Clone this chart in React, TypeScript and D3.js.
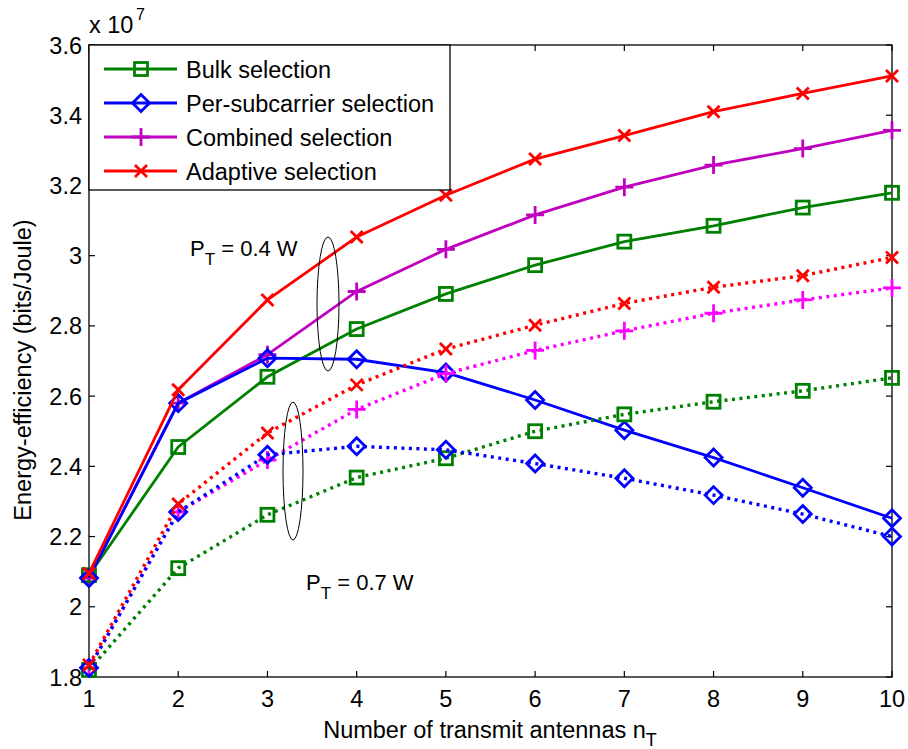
import React from "react";
import * as d3 from "d3";

const antennas = [1, 2, 3, 4, 5, 6, 7, 8, 9, 10];
const yTicks = [1.8, 2, 2.2, 2.4, 2.6, 2.8, 3, 3.2, 3.4, 3.6];
const yTickLabels = ["1.8", "2", "2.2", "2.4", "2.6", "2.8", "3", "3.2", "3.4", "3.6"];

// P_T = 0.4 W (solid)
const bulk04 = [2.09, 2.455, 2.655, 2.791, 2.891, 2.973, 3.04, 3.085, 3.137, 3.179];
const perSub04 = [2.082, 2.58, 2.708, 2.705, 2.667, 2.589, 2.503, 2.425, 2.339, 2.252];
const combined04 = [2.082, 2.58, 2.718, 2.898, 3.018, 3.116, 3.195, 3.258, 3.305, 3.357];
const adaptive04 = [2.095, 2.618, 2.874, 3.053, 3.172, 3.275, 3.342, 3.41, 3.462, 3.512];
// P_T = 0.7 W (dotted)
const bulk07 = [1.82, 2.11, 2.262, 2.368, 2.423, 2.5, 2.548, 2.584, 2.615, 2.652];
const perSub07 = [1.826, 2.27, 2.433, 2.457, 2.447, 2.408, 2.366, 2.318, 2.264, 2.2];
const combined07 = [1.826, 2.27, 2.418, 2.562, 2.664, 2.73, 2.786, 2.836, 2.874, 2.908];
const adaptive07 = [1.834, 2.293, 2.495, 2.632, 2.734, 2.802, 2.864, 2.91, 2.943, 2.995];

const legendNames = ["Bulk selection", "Per-subcarrier selection", "Combined selection", "Adaptive selection"];

type Marker = "square" | "diamond" | "plus" | "x";

const L = 89, R = 892, T = 45, B = 677;
const FONT = "'Liberation Sans', Arial, Helvetica, sans-serif";
const FS = 23.5;

function MarkerShape({ type, x, y, color }: { type: Marker; x: number; y: number; color: string }) {
  const sw = 2.8;
  if (type === "square") {
    const s = 6.5;
    return <rect x={x - s} y={y - s} width={2 * s} height={2 * s} fill="none" stroke={color} strokeWidth={sw} />;
  }
  if (type === "diamond") {
    const s = 8.5;
    return <path d={`M${x},${y - s}L${x + s},${y}L${x},${y + s}L${x - s},${y}Z`} fill="none" stroke={color} strokeWidth={sw} />;
  }
  if (type === "plus") {
    const s = 9;
    return <path d={`M${x - s},${y}L${x + s},${y}M${x},${y - s}L${x},${y + s}`} stroke={color} strokeWidth={sw} />;
  }
  const s = 6;
  return <path d={`M${x - s},${y - s}L${x + s},${y + s}M${x - s},${y + s}L${x + s},${y - s}`} stroke={color} strokeWidth={sw} />;
}

export default function App() {
  const x = d3.scaleLinear().domain([1, 10]).range([L, R]);
  const y = d3.scaleLinear().domain([1.8, 3.6]).range([B, T]);
  const line = d3.line<number>().x((_, i) => x(antennas[i])).y((d) => y(d));

  const series: { data: number[]; color: string; marker: Marker; dotted: boolean }[] = [
    { data: combined04, color: "#bf00bf", marker: "plus", dotted: false },
    { data: bulk04, color: "#008000", marker: "square", dotted: false },
    { data: perSub04, color: "#0000ff", marker: "diamond", dotted: false },
    { data: adaptive04, color: "#ff0000", marker: "x", dotted: false },
    { data: combined07, color: "#ff00ff", marker: "plus", dotted: true },
    { data: bulk07, color: "#008000", marker: "square", dotted: true },
    { data: perSub07, color: "#0000ff", marker: "diamond", dotted: true },
    { data: adaptive07, color: "#ff0000", marker: "x", dotted: true },
  ];

  const legend: { color: string; marker: Marker }[] = [
    { color: "#008000", marker: "square" },
    { color: "#0000ff", marker: "diamond" },
    { color: "#bf00bf", marker: "plus" },
    { color: "#ff0000", marker: "x" },
  ];
  const legendY = [69, 103, 137, 171];

  return (
    <svg width={908} height={749} style={{ position: "absolute", left: 0, top: 0, background: "#fff" }} fontFamily={FONT}>
      <rect x={0} y={0} width={908} height={749} fill="#fff" />
      <defs>
        <clipPath id="plotclip">
          <rect x={L - 12} y={T - 12} width={R - L + 24} height={B - T + 24} />
        </clipPath>
      </defs>
      {/* axes box */}
      <rect x={L} y={T} width={R - L} height={B - T} fill="none" stroke="#000" strokeWidth={1.3} />
      {antennas.map((a) => (
        <g key={"xt" + a}>
          <line x1={x(a)} x2={x(a)} y1={B} y2={B - 6} stroke="#000" strokeWidth={1.2} />
          <line x1={x(a)} x2={x(a)} y1={T} y2={T + 6} stroke="#000" strokeWidth={1.2} />
          <text x={x(a)} y={B + 30} textAnchor="middle" fontSize={FS}>{a}</text>
        </g>
      ))}
      {yTicks.map((t, i) => (
        <g key={"yt" + i}>
          <line x1={L} x2={L + 6} y1={y(t)} y2={y(t)} stroke="#000" strokeWidth={1.2} />
          <line x1={R} x2={R - 6} y1={y(t)} y2={y(t)} stroke="#000" strokeWidth={1.2} />
          <text x={L - 7} y={y(t) + 8.5} textAnchor="end" fontSize={FS}>{yTickLabels[i]}</text>
        </g>
      ))}
      <text x={L} y={33} fontSize={FS}>x 10</text>
      <text x={L + 47} y={20} fontSize={16}>7</text>

      {/* series */}
      <g clipPath="url(#plotclip)">
        {series.map((s, si) => (
          <g key={"s" + si}>
            <path d={line(s.data) || ""} fill="none" stroke={s.color} strokeWidth={s.dotted ? 3.4 : 2.8}
              strokeDasharray={s.dotted ? "3,4.5" : undefined} />
            {s.data.map((v, i) => (
              <MarkerShape key={i} type={s.marker} x={x(antennas[i])} y={y(v)} color={s.color} />
            ))}
          </g>
        ))}
      </g>

      {/* annotations */}
      <ellipse cx={328} cy={304} rx={11} ry={67} fill="none" stroke="#000" strokeWidth={1} />
      <ellipse cx={293} cy={471} rx={10} ry={69} fill="none" stroke="#000" strokeWidth={1} />
      <text x={190} y={256} fontSize={22}>
        P<tspan dy={9} fontSize={17}>T</tspan><tspan dy={-9}> = 0.4 W</tspan>
      </text>
      <text x={306} y={590} fontSize={22}>
        P<tspan dy={9} fontSize={17}>T</tspan><tspan dy={-9}> = 0.7 W</tspan>
      </text>

      {/* legend */}
      <rect x={L} y={T} width={361} height={145} fill="#fff" stroke="#000" strokeWidth={1.3} />
      {legend.map((l, i) => (
        <g key={"lg" + i}>
          <line x1={104} x2={177} y1={legendY[i]} y2={legendY[i]} stroke={l.color} strokeWidth={2.8} />
          <MarkerShape type={l.marker} x={141} y={legendY[i]} color={l.color} />
          <text x={186} y={legendY[i] + 8.5} fontSize={FS}>{legendNames[i]}</text>
        </g>
      ))}

      {/* axis labels */}
      <text x={490} y={738} textAnchor="middle" fontSize={FS}>
        Number of transmit antennas n<tspan dy={8} fontSize={18}>T</tspan>
      </text>
      <text transform={`translate(31,370) rotate(-90)`} textAnchor="middle" fontSize={FS}>
        Energy-efficiency (bits/Joule)
      </text>
    </svg>
  );
}
